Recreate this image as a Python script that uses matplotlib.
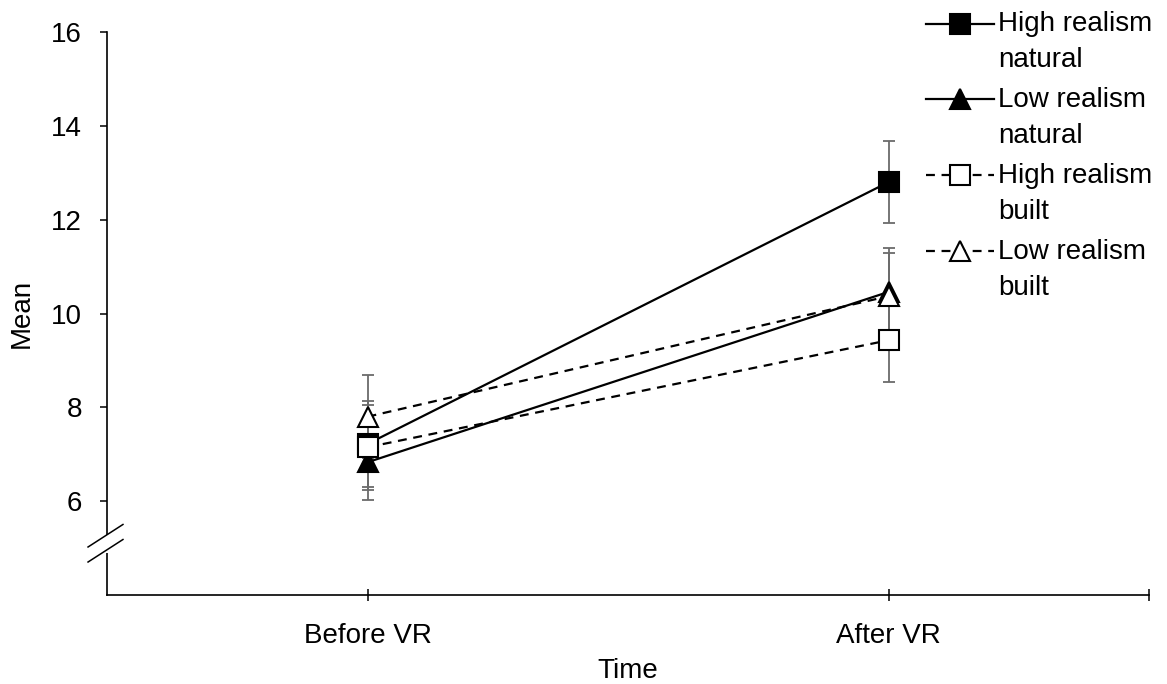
import matplotlib
matplotlib.use("Agg")
import matplotlib.pyplot as plt
from matplotlib.legend_handler import HandlerLine2D
from matplotlib.patches import Rectangle
from matplotlib.lines import Line2D

plt.rcParams['font.family'] = ['Liberation Sans', 'DejaVu Sans']

times = ["Before VR", "After VR"]
groups = ["High realism\nnatural", "Low realism\nnatural",
          "High realism\nbuilt", "Low realism\nbuilt"]
means = [
    [7.22, 12.80],
    [6.83, 10.46],
    [7.15, 9.43],
    [7.80, 10.37],
]
errors = [
    [0.91, 0.87],
    [0.81, 0.94],
    [0.91, 0.90],
    [0.88, 0.92],
]
styles = [
    dict(marker="s", ls="-", mfc="black"),
    dict(marker="^", ls="-", mfc="black"),
    dict(marker="s", ls="--", mfc="white"),
    dict(marker="^", ls="--", mfc="white"),
]


class UpHandler(HandlerLine2D):
    # put the handle level with the first line of a two-line label
    def create_artists(self, legend, orig_handle, xdescent, ydescent,
                       width, height, fontsize, trans):
        arts = super().create_artists(legend, orig_handle, xdescent, ydescent,
                                      width, height, fontsize, trans)
        shift = 13.5
        for a in arts:
            a.set_ydata([y + shift for y in a.get_ydata()])
        return arts


fig = plt.figure(figsize=(11.67, 6.84), dpi=100)
ax = fig.add_axes([0.0917, 0.1301, 0.8929, 0.8231])

x = list(range(len(times)))
handles = []
for m, e, st, g in zip(means, errors, styles, groups):
    ax.errorbar(x, m, yerr=e, fmt="none", ecolor="#6b6b6b", elinewidth=1.3,
                capsize=4.5, capthick=1.3, zorder=1)
    ln, = ax.plot(x, m, color="black", lw=1.6, ls=st["ls"], marker=st["marker"],
                  ms=14, mfc=st["mfc"], mec="black", mew=1.5, label=g, zorder=2,
                  dashes=(4, 3) if st["ls"] == "--" else (None, None))
    handles.append(ln)

ax.set_xlim(-0.5, 1.5)
ax.set_ylim(4, 16)
ax.set_yticks([6, 8, 10, 12, 14, 16])
ax.set_xticks(x + [1.5])
ax.set_xticklabels(times + [""])

for s in ["top", "right"]:
    ax.spines[s].set_visible(False)
for s in ["left", "bottom"]:
    ax.spines[s].set_linewidth(1.2)

ax.tick_params(axis="y", direction="out", length=5, width=1.1, labelsize=20, pad=13)
ax.tick_params(axis="x", direction="inout", length=9, width=1.1, labelsize=20, pad=16)

ax.set_ylabel("Mean", fontsize=20, labelpad=12)
ax.set_xlabel("Time", fontsize=20, labelpad=6)

# axis break on the y axis
ax.add_patch(Rectangle((-0.01, 0.075), 0.02, 0.032, transform=ax.transAxes,
                       facecolor="white", edgecolor="none", clip_on=False, zorder=5))
for y0 in [0.0853, 0.0586]:
    ax.add_line(Line2D([-0.0182, 0.0153], [y0, y0 + 0.04], transform=ax.transAxes,
                       color="black", lw=1.1, clip_on=False, zorder=6))

leg = fig.legend(handles=handles, loc="upper left",
                 bbox_to_anchor=(926 / 1167, 1 - 11 / 684),
                 frameon=False, fontsize=20, handlelength=2.45, handletextpad=0.15,
                 labelspacing=0.5, borderpad=0, borderaxespad=0,
                 handler_map={Line2D: UpHandler()})
for t in leg.get_texts():
    t.set_linespacing(1.5)

fig.savefig("out.png", dpi=100)
